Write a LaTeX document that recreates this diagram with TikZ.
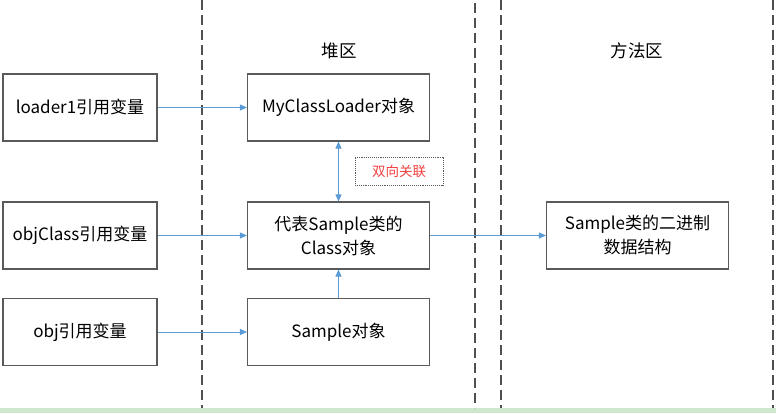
\documentclass[tikz,border=0pt]{standalone}
\usepackage{fontspec}
\setmainfont{Noto Sans CJK SC}
\usetikzlibrary{arrows.meta}
\definecolor{linkblue}{HTML}{5B9BD5}
\definecolor{boxgray}{HTML}{5A5A5A}
\definecolor{zonegray}{HTML}{505050}
\definecolor{stripgreen}{HTML}{CDE8CD}
\definecolor{notered}{HTML}{F04040}
\tikzset{
 box/.style={draw=boxgray, line width=1.1pt, minimum height=67pt, inner sep=0pt,
  align=center, font=\fontsize{17}{24}\selectfont},
 refbox/.style={box, minimum width=154pt},
 objbox/.style={box, minimum width=182pt},
 zone/.style={draw=zonegray, line width=1.4pt, dash pattern=on 10pt off 5pt},
 link/.style={draw=linkblue, line width=0.9pt, -{Triangle[length=7pt,width=6pt]}},
 note/.style={draw=boxgray, densely dotted, line width=0.9pt, minimum width=88pt,
  minimum height=28pt, text=notered, font=\fontsize{13.5}{15}\selectfont},
}

\begin{document}
\begin{tikzpicture}[x=1pt,y=-1pt]
    \useasboundingbox (0,0) rectangle (776,413);
    \fill[stripgreen] (0,408) rectangle (776,413);
    % zones
    \draw[zone] (202,0) -- (202,408);
    \draw[zone] (475,3) -- (475,408);
    \draw[zone] (501,0) -- (501,408);
    \draw[zone] (773,0) -- (773,408);
    \node[font=\fontsize{17.5}{20}\selectfont] (heap) at (339,51) {堆区};
    \node[font=\fontsize{17.5}{20}\selectfont] (method) at (637,51) {方法区};
    % references
    \node[refbox] (loaderref) at (80,107.5) {loader1引用变量};
    \node[refbox] (classref) at (80,235.5) {objClass引用变量};
    \node[refbox] (objref) at (80,332) {obj引用变量};
    % heap
    \node[objbox] (loaderobj) at (338.5,107.5) {MyClassLoader对象};
    \node[objbox] (classobj) at (338.5,235.5) {代表Sample类的\\Class对象};
    \node[objbox] (sampleobj) at (338.5,332) {Sample对象};
    \node[note] (both) at (399,171) {双向关联};
    % method area
    \node[objbox] (binary) at (637.5,235.5) {Sample类的二进制\\数据结构};
    % links
    \draw[link] (loaderref) -- (loaderobj);
    \draw[link] (classref) -- (classobj);
    \draw[link] (objref) -- (sampleobj);
    \draw[link, {Triangle[length=7pt,width=6pt]}-{Triangle[length=7pt,width=6pt]}] (loaderobj) -- (classobj);
    \draw[link] (sampleobj) -- (classobj);
    \draw[link] (classobj) -- (binary);
\end{tikzpicture}
\end{document}
